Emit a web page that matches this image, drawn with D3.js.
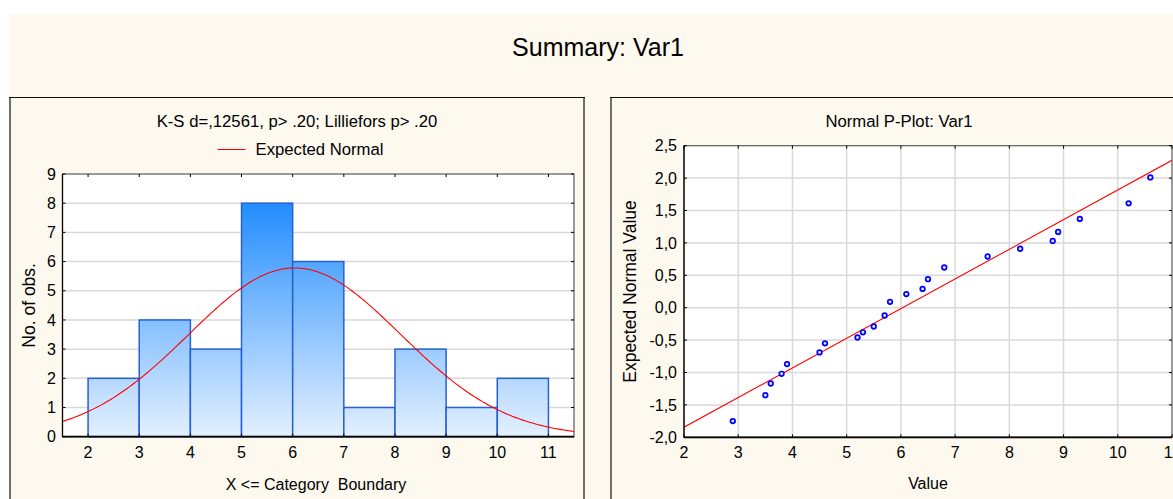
<!DOCTYPE html>
<html>
<head>
<meta charset="utf-8">
<script src="https://cdn.jsdelivr.net/npm/d3@7"></script>
<style>
  html, body { margin: 0; padding: 0; background: #ffffff; }
  svg { display: block; font-family: "Liberation Sans", Arial, sans-serif; }
</style>
</head>
<body>
<svg id="chart" width="1173" height="499"></svg>
<script>
// ---- Histogram data: category boundaries and counts ----
const binEdges = [2, 3, 4, 5, 6, 7, 8, 9, 10, 11];
const binCounts = [2, 4, 3, 8, 6, 1, 3, 1, 2];
const histXTicks = [2, 3, 4, 5, 6, 7, 8, 9, 10, 11];
const histYTicks = [0, 1, 2, 3, 4, 5, 6, 7, 8, 9];
// Expected normal curve parameters (sample size, mean, std. dev.)
const sampleN = 30;
const normalMean = 6.04;
const normalSd = 2.07;

// ---- Normal probability plot data ----
const ppValues = [2.9, 3.5, 3.6, 3.8, 3.9, 4.5, 4.6, 5.2, 5.3, 5.5, 5.7, 5.8,
                  6.1, 6.4, 6.5, 6.8, 7.6, 8.2, 8.8, 8.9, 9.3, 10.2, 10.6];
const ppExpected = [-1.75, -1.35, -1.17, -1.02, -0.87, -0.69, -0.55, -0.46, -0.38, -0.29, -0.12, 0.09,
                    0.21, 0.29, 0.44, 0.62, 0.79, 0.91, 1.03, 1.17, 1.37, 1.61, 2.01];
const ppXTicks = [2, 3, 4, 5, 6, 7, 8, 9, 10, 11];
const ppYTicks = [-2, -1.5, -1, -0.5, 0, 0.5, 1, 1.5, 2, 2.5];
// Reference line: expected = (value - lineMean) / lineSd
const lineMean = 6.03;
const lineSd = 2.185;

const svg = d3.select("#chart");
const cream = "#fdf9ef";
const gridColor = "#d9d9d9";
const titleSize = 16.7;
const tickSize = 16;

// Page background
svg.append("rect").attr("x", 10).attr("y", 14).attr("width", 1200).attr("height", 500).attr("fill", cream);

svg.append("text")
  .attr("x", 598).attr("y", 56)
  .attr("text-anchor", "middle")
  .attr("font-size", 25).attr("fill", "#000")
  .text("Summary: Var1");

// Panel frames
function panelFrame(x0, x1) {
  const g = svg.append("g");
  g.append("line").attr("x1", x0).attr("x2", x0).attr("y1", 97).attr("y2", 520)
    .attr("stroke", "#6e6e6e").attr("stroke-width", 2);
  g.append("line").attr("x1", x1).attr("x2", x1).attr("y1", 97).attr("y2", 520)
    .attr("stroke", "#6e6e6e").attr("stroke-width", 2);
  g.append("line").attr("x1", x0 - 1).attr("x2", x1 + 1).attr("y1", 97.5).attr("y2", 97.5)
    .attr("stroke", "#111").attr("stroke-width", 1);
}
panelFrame(10, 584);
panelFrame(611, 1185);

// Frame + inward ticks on all four sides of a plot area
function plotBox(g, x, y, xTicks, yTicks) {
  const [l, r] = x.range();
  const [b, t] = y.range();
  g.append("rect").attr("x", l).attr("y", t).attr("width", r - l).attr("height", b - t)
    .attr("fill", "none").attr("stroke", "#5a5a5a").attr("stroke-width", 1.2);
  g.append("line").attr("x1", l).attr("x2", l).attr("y1", t).attr("y2", b)
    .attr("stroke", "#000").attr("stroke-width", 1.2);
  g.append("line").attr("x1", l).attr("x2", r).attr("y1", b).attr("y2", b)
    .attr("stroke", "#000").attr("stroke-width", 1.8);
  const tl = 3;
  xTicks.forEach(v => {
    const px = x(v);
    if (px < l - 0.5 || px > r + 0.5) return;
    g.append("line").attr("x1", px).attr("x2", px).attr("y1", b).attr("y2", b - tl).attr("stroke", "#000");
    g.append("line").attr("x1", px).attr("x2", px).attr("y1", t).attr("y2", t + tl).attr("stroke", "#000");
  });
  yTicks.forEach(v => {
    const py = y(v);
    g.append("line").attr("x1", l).attr("x2", l + tl).attr("y1", py).attr("y2", py).attr("stroke", "#000");
    g.append("line").attr("x1", r).attr("x2", r - tl).attr("y1", py).attr("y2", py).attr("stroke", "#000");
  });
}

// ================= Histogram panel =================
{
  const g = svg.append("g");
  const x = d3.scaleLinear().domain([1.5, 11.5]).range([62.5, 574]);
  const y = d3.scaleLinear().domain([0, 9]).range([436.7, 174]);

  g.append("text").attr("x", 297).attr("y", 127).attr("text-anchor", "middle")
    .attr("font-size", titleSize).text("K-S d=,12561, p> .20; Lilliefors p> .20");
  // legend
  g.append("line").attr("x1", 217.5).attr("x2", 245.5).attr("y1", 149.5).attr("y2", 149.5)
    .attr("stroke", "#ff0000").attr("stroke-width", 1);
  g.append("text").attr("x", 255.5).attr("y", 155).attr("font-size", titleSize).text("Expected Normal");

  g.append("rect").attr("x", 62.5).attr("y", 174).attr("width", 574 - 62.5).attr("height", 436.7 - 174)
    .attr("fill", "#fff");

  // horizontal gridlines
  g.selectAll(".hgrid").data(histYTicks.slice(1, -1)).join("line")
    .attr("x1", 62.5).attr("x2", 574).attr("y1", d => y(d)).attr("y2", d => y(d))
    .attr("stroke", gridColor).attr("stroke-width", 1.5);

  // vertical gradient tied to the value axis
  const defs = svg.append("defs");
  const grad = defs.append("linearGradient").attr("id", "barGrad")
    .attr("gradientUnits", "userSpaceOnUse")
    .attr("x1", 0).attr("x2", 0).attr("y1", y(0)).attr("y2", y(8.2));
  grad.append("stop").attr("offset", "0%").attr("stop-color", "#e4f0ff");
  grad.append("stop").attr("offset", "45%").attr("stop-color", "#8cc3ff");
  grad.append("stop").attr("offset", "100%").attr("stop-color", "#1e8aff");

  const bins = binCounts.map((c, i) => ({ x0: binEdges[i], x1: binEdges[i + 1], count: c }));
  g.selectAll(".bar").data(bins).join("rect")
    .attr("x", d => x(d.x0)).attr("width", d => x(d.x1) - x(d.x0))
    .attr("y", d => y(d.count)).attr("height", d => y(0) - y(d.count))
    .attr("fill", "url(#barGrad)")
    .attr("stroke", "#2560d6").attr("stroke-width", 1.5);

  // expected normal curve scaled to counts per unit-wide bin
  const binW = binEdges[1] - binEdges[0];
  const pdf = v => Math.exp(-0.5 * ((v - normalMean) / normalSd) ** 2) / (normalSd * Math.sqrt(2 * Math.PI));
  const curveX = d3.range(1.5, 11.5001, 0.05);
  g.append("path")
    .datum(curveX)
    .attr("d", d3.line().x(v => x(v)).y(v => y(sampleN * binW * pdf(v))))
    .attr("fill", "none").attr("stroke", "#ff0000").attr("stroke-width", 1.1);

  plotBox(g, x, y, histXTicks, histYTicks);

  g.selectAll(".xl").data(histXTicks).join("text")
    .attr("x", d => x(d)).attr("y", 458).attr("text-anchor", "middle")
    .attr("font-size", tickSize).text(d => d);
  g.selectAll(".yl").data(histYTicks).join("text")
    .attr("x", 56).attr("y", d => y(d) + 5.6).attr("text-anchor", "end")
    .attr("font-size", tickSize).text(d => d);

  g.append("text").attr("x", 316).attr("y", 490).attr("text-anchor", "middle")
    .attr("font-size", 16).attr("xml:space", "preserve").text("X <= Category  Boundary");
  g.append("text").attr("transform", "translate(35," + (174 + 436.7) / 2 + ") rotate(-90)")
    .attr("text-anchor", "middle").attr("font-size", 17.5).text("No. of obs.");
}

// ================= Normal P-Plot panel =================
{
  const g = svg.append("g");
  const x = d3.scaleLinear().domain([2, 11]).range([684, 1172]);
  const y = d3.scaleLinear().domain([-2, 2.5]).range([437.3, 145.7]);
  const fmt = v => d3.format(".1f")(v).replace(".", ",").replace("−", "-");

  g.append("text").attr("x", 899).attr("y", 127).attr("text-anchor", "middle")
    .attr("font-size", titleSize).text("Normal P-Plot: Var1");

  g.append("rect").attr("x", 684).attr("y", 145.7).attr("width", 1172 - 684).attr("height", 437.3 - 145.7)
    .attr("fill", "#fff");

  g.selectAll(".vgrid").data(ppXTicks.slice(1, -1)).join("line")
    .attr("x1", d => x(d)).attr("x2", d => x(d)).attr("y1", 145.7).attr("y2", 437.3)
    .attr("stroke", gridColor).attr("stroke-width", 1.5);
  g.selectAll(".hgrid").data(ppYTicks.slice(1, -1)).join("line")
    .attr("x1", 684).attr("x2", 1172).attr("y1", d => y(d)).attr("y2", d => y(d))
    .attr("stroke", gridColor).attr("stroke-width", 1.5);

  // reference line, clipped to the plot area
  svg.append("clipPath").attr("id", "ppClip").append("rect")
    .attr("x", 684).attr("y", 145.7).attr("width", 1172 - 684).attr("height", 437.3 - 145.7);
  const lineX = [2, 11];
  g.append("path").datum(lineX)
    .attr("clip-path", "url(#ppClip)")
    .attr("d", d3.line().x(v => x(v)).y(v => y((v - lineMean) / lineSd)))
    .attr("fill", "none").attr("stroke", "#ff0000").attr("stroke-width", 1.1);

  const pts = ppValues.map((v, i) => ({ v, e: ppExpected[i] }));
  g.selectAll(".pt").data(pts).join("circle")
    .attr("cx", d => x(d.v)).attr("cy", d => y(d.e)).attr("r", 2.3)
    .attr("fill", "#dfe6ff").attr("stroke", "#0000ff").attr("stroke-width", 1.7);

  plotBox(g, x, y, ppXTicks, ppYTicks);

  g.selectAll(".xl").data(ppXTicks).join("text")
    .attr("x", d => x(d)).attr("y", 457.5).attr("text-anchor", "middle")
    .attr("font-size", tickSize).text(d => d);
  g.selectAll(".yl").data(ppYTicks).join("text")
    .attr("x", 677).attr("y", d => y(d) + 5.6).attr("text-anchor", "end")
    .attr("font-size", tickSize).text(d => fmt(d));

  g.append("text").attr("x", 928).attr("y", 489).attr("text-anchor", "middle")
    .attr("font-size", 16).text("Value");
  g.append("text").attr("transform", "translate(636," + (145.7 + 437.3) / 2 + ") rotate(-90)")
    .attr("text-anchor", "middle").attr("font-size", 17.5).text("Expected Normal Value");
}
</script>
</body>
</html>
